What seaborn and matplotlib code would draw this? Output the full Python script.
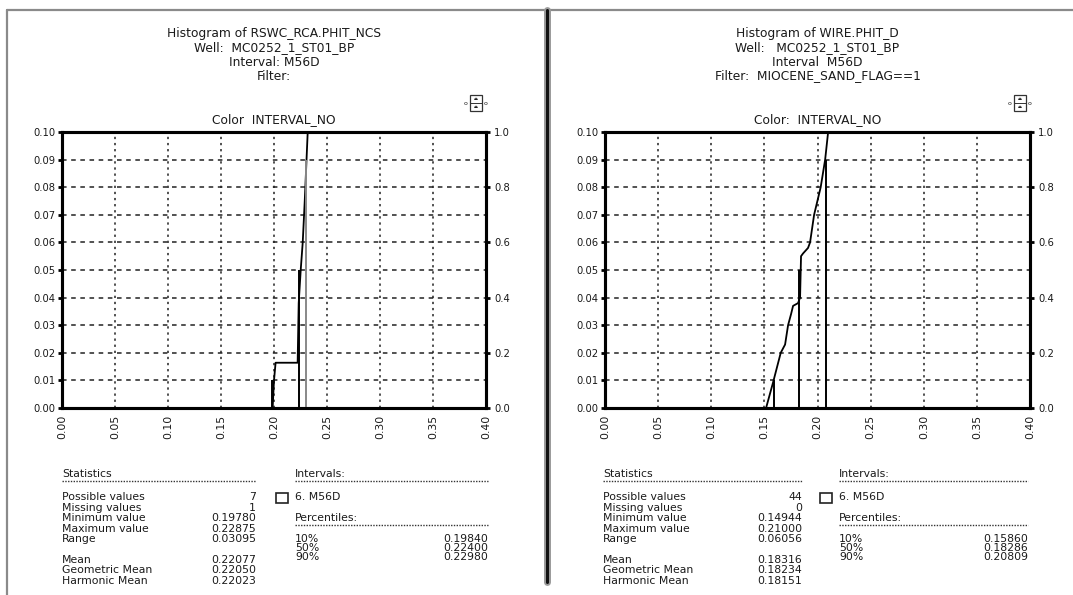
import numpy as np
import matplotlib
matplotlib.use("Agg")
import matplotlib.pyplot as plt
from matplotlib.lines import Line2D
from matplotlib.patches import Rectangle
import seaborn as sns

sns.set_style("white")
plt.rcParams['font.family'] = ['DejaVu Sans']

W, H = 1073, 595

# ---------------- data ----------------
x_tick_vals = [0.00, 0.05, 0.10, 0.15, 0.20, 0.25, 0.30, 0.35, 0.40]
x_tick_labels = ["0.00", "0.05", "0.10", "0.15", "0.20", "0.25", "0.30", "0.35", "0.40"]
freq_tick_vals = [0.00, 0.01, 0.02, 0.03, 0.04, 0.05, 0.06, 0.07, 0.08, 0.09, 0.10]
freq_tick_labels = ["0.00", "0.01", "0.02", "0.03", "0.04", "0.05", "0.06", "0.07", "0.08", "0.09", "0.10"]
cum_tick_vals = [0.0, 0.2, 0.4, 0.6, 0.8, 1.0]
cum_tick_labels = ["0.0", "0.2", "0.4", "0.6", "0.8", "1.0"]

# panel 1: RSWC_RCA.PHIT_NCS cumulative curve
cdf1_x = [0.1987, 0.2000, 0.2015, 0.2223, 0.2233, 0.2252, 0.2271, 0.2290, 0.2299, 0.2318]
cdf1_y = [0.00, 0.10, 0.164, 0.164, 0.38, 0.50, 0.60, 0.75, 0.83, 1.00]
pct1_x = [0.19840, 0.22400, 0.22980]
pct1_top = [0.10, 0.50, 0.90]

# panel 2: WIRE.PHIT_D cumulative curve
cdf2_x = [0.1516, 0.1580, 0.1654, 0.1695, 0.1723, 0.1751, 0.1770, 0.1817, 0.1836, 0.1845,
          0.1864, 0.1911, 0.1930, 0.1968, 0.2030, 0.2072, 0.2100]
cdf2_y = [0.00, 0.09, 0.20, 0.23, 0.30, 0.34, 0.37, 0.38, 0.40, 0.55,
          0.56, 0.58, 0.60, 0.70, 0.80, 0.90, 1.00]
pct2_x = [0.15860, 0.18286, 0.20809]
pct2_top = [0.10, 0.50, 0.90]

title1 = ["Histogram of RSWC_RCA.PHIT_NCS", "Well:  MC0252_1_ST01_BP", "Interval: M56D", "Filter:"]
title2 = ["Histogram of WIRE.PHIT_D", "Well:   MC0252_1_ST01_BP", "Interval  M56D", "Filter:  MIOCENE_SAND_FLAG==1"]
color_label1 = "Color  INTERVAL_NO"
color_label2 = "Color:  INTERVAL_NO"

stat_names = ["Possible values", "Missing values", "Minimum value", "Maximum value", "Range",
              "Mean", "Geometric Mean", "Harmonic Mean"]
stat_vals1 = ["7", "1", "0.19780", "0.22875", "0.03095", "0.22077", "0.22050", "0.22023"]
stat_vals2 = ["44", "0", "0.14944", "0.21000", "0.06056", "0.18316", "0.18234", "0.18151"]
interval_name = "6. M56D"
pct_names = ["10%", "50%", "90%"]
pct_vals1 = ["0.19840", "0.22400", "0.22980"]
pct_vals2 = ["0.15860", "0.18286", "0.20809"]

# ---------------- layout ----------------
TXT = "#1a1a1a"
FS_TITLE = 8.8
FS_TICK = 7.8
FS_STAT = 7.8

fig = plt.figure(figsize=(W / 100, H / 100), dpi=100)
fig.patch.set_facecolor("white")


def fx(px):
    return px / W


def fy(py):
    return 1 - py / H


def rect(l, t, r, b):
    return [l / W, 1 - b / H, (r - l) / W, (b - t) / H]


def hline(x0, x1, y, **kw):
    fig.add_artist(Line2D([fx(x0), fx(x1)], [fy(y), fy(y)], transform=fig.transFigure, **kw))


def vline(x, y0, y1, **kw):
    fig.add_artist(Line2D([fx(x), fx(x)], [fy(y0), fy(y1)], transform=fig.transFigure, **kw))


# page borders
hline(7, W, 10, color="#8a8a8a", lw=1.6)
vline(7, 10, H, color="#8a8a8a", lw=1.6)
vline(547, 10, 582, color="#9a9a9a", lw=5.0)
vline(547, 10, 582, color="#111111", lw=2.2)


def panel(l, r, cdf_x, cdf_y, pct_x, pct_top, pct_colors, titles, color_label,
          stat_vals, pct_vals, stats_left, stats_right, int_left, int_right):
    t, b = 132, 408
    ax = fig.add_axes(rect(l, t, r, b))
    ax.set_xlim(0, 0.40)
    ax.set_ylim(0, 0.10)
    ax.set_xticks(x_tick_vals)
    ax.set_xticklabels(x_tick_labels, rotation=90, fontsize=FS_TICK, color=TXT)
    ax.set_yticks(freq_tick_vals)
    ax.set_yticklabels(freq_tick_labels, fontsize=FS_TICK - 0.6, color=TXT)
    ax.grid(False)
    for yv in freq_tick_vals[1:-1]:
        ax.axhline(yv, color="#222222", lw=1.1, ls=(0, (3, 3)), zorder=0.5)
    for xv in x_tick_vals[1:-1]:
        ax.axvline(xv, color="#222222", lw=1.1, ls=(0, (1.5, 2.5)), zorder=0.5)
    for s in ax.spines.values():
        s.set_linewidth(2.2)
        s.set_color("black")
    ax.tick_params(axis="both", direction="out", length=3, width=2, color="black", pad=2)

    ax2 = ax.twinx()
    ax2.set_ylim(0, 1.0)
    ax2.set_yticks(cum_tick_vals)
    ax2.set_yticklabels(cum_tick_labels, fontsize=FS_TICK - 0.6, color=TXT)
    ax2.tick_params(axis="y", direction="out", length=3, width=2, color="black", pad=3)
    for s in ax2.spines.values():
        s.set_linewidth(2.2)
        s.set_color("black")
    ax2.grid(False)
    sns.lineplot(x=cdf_x, y=cdf_y, ax=ax2, color="black", lw=1.3, sort=False, estimator=None)
    for xv, tv, c in zip(pct_x, pct_top, pct_colors):
        ax2.vlines(xv, 0, tv, color=c, lw=1.4)
    ax2.set_xlim(0, 0.40)

    cx = (l + r) / 2
    for txt, yy in zip(titles, [34, 48, 62, 76]):
        fig.text(fx(cx), fy(yy), txt, ha="center", va="center", fontsize=FS_TITLE, color=TXT)
    fig.text(fx(cx), fy(120), color_label, ha="center", va="center", fontsize=FS_TITLE, color=TXT)

    # small legend icon
    ix, iy = r - 10, 103
    fig.add_artist(Rectangle((fx(ix - 6), fy(iy + 8)), 12 / W, 16 / H, transform=fig.transFigure,
                             fill=False, ec="#333333", lw=0.9))
    hline(ix - 6, ix + 6, iy, color="#333333", lw=0.7)
    fig.text(fx(ix - 10), fy(iy), "o", ha="center", va="center", fontsize=4.5, color=TXT)
    fig.text(fx(ix + 10), fy(iy), "o", ha="center", va="center", fontsize=4.5, color=TXT)
    fig.text(fx(ix), fy(iy - 4), "▴▴", ha="center", va="center", fontsize=3.5, color=TXT)
    fig.text(fx(ix), fy(iy + 4), "▴▴", ha="center", va="center", fontsize=3.5, color=TXT)

    # statistics block
    fig.text(fx(stats_left), fy(474), "Statistics", ha="left", va="center", fontsize=FS_STAT, color=TXT)
    hline(stats_left, stats_right, 481, color="#333333", lw=1.0, ls=(0, (1, 1)))
    rows = [497, 508, 518, 529, 539, 560, 570, 581]
    for name, val, yy in zip(stat_names, stat_vals, rows):
        fig.text(fx(stats_left), fy(yy), name, ha="left", va="center", fontsize=FS_STAT, color=TXT)
        fig.text(fx(stats_right), fy(yy), val, ha="right", va="center", fontsize=FS_STAT, color=TXT)

    # intervals / percentiles
    fig.text(fx(int_left), fy(474), "Intervals:", ha="left", va="center", fontsize=FS_STAT, color=TXT)
    hline(int_left, int_right, 481, color="#333333", lw=1.0, ls=(0, (1, 1)))
    fig.add_artist(Rectangle((fx(int_left - 19), fy(503)), 12 / W, 10 / H, transform=fig.transFigure,
                             fill=False, ec="#222222", lw=1.2))
    fig.text(fx(int_left), fy(497), interval_name, ha="left", va="center", fontsize=FS_STAT, color=TXT)
    fig.text(fx(int_left), fy(518), "Percentiles:", ha="left", va="center", fontsize=FS_STAT, color=TXT)
    hline(int_left, int_right, 525, color="#333333", lw=1.0, ls=(0, (1, 1)))
    for name, val, yy in zip(pct_names, pct_vals, [539, 548, 557]):
        fig.text(fx(int_left), fy(yy), name, ha="left", va="center", fontsize=FS_STAT, color=TXT)
        fig.text(fx(int_right), fy(yy), val, ha="right", va="center", fontsize=FS_STAT, color=TXT)
    return ax, ax2


panel(62, 486, cdf1_x, cdf1_y, pct1_x, pct1_top, ["black", "black", "#888888"], title1, color_label1,
      stat_vals1, pct_vals1, 62, 256, 295, 488)
panel(605, 1030, cdf2_x, cdf2_y, pct2_x, pct2_top, ["black", "black", "black"], title2, color_label2,
      stat_vals2, pct_vals2, 603, 802, 839, 1028)

fig.savefig("out.png", dpi=100, facecolor="white")
